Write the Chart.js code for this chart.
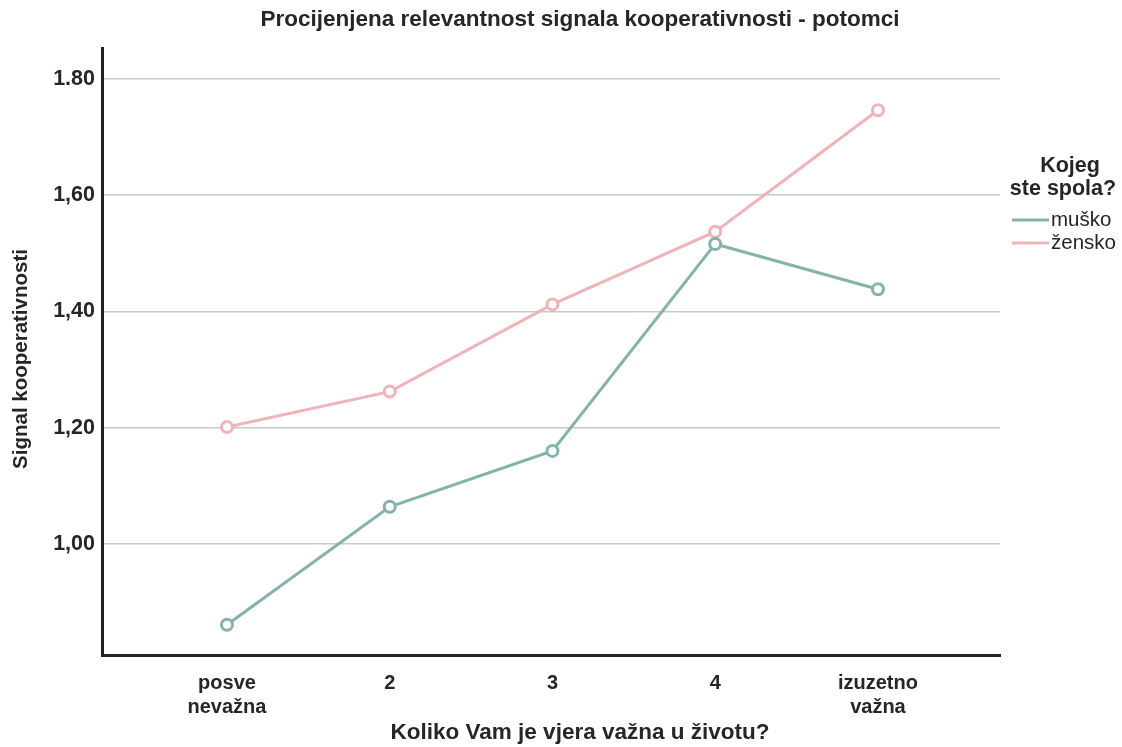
<!DOCTYPE html>
<html>
<head>
<meta charset="utf-8">
<script src="https://cdn.jsdelivr.net/npm/chart.js@4.4.0/dist/chart.umd.min.js"></script>
<style>
  html, body { margin: 0; padding: 0; background: #fff; }
  #wrap { width: 1122px; height: 747px; position: relative; }
</style>
</head>
<body>
<div id="wrap"><canvas id="chart"></canvas></div>
<script>
const categories = [["posve", "nevažna"], "2", "3", "4", ["izuzetno", "važna"]];
const musko = [0.861, 1.064, 1.160, 1.516, 1.438];
const zensko = [1.201, 1.262, 1.412, 1.537, 1.746];
const yTicks = [1.0, 1.2, 1.4, 1.6, 1.8];
const seriesNames = ["muško", "žensko"];
const colors = ["#84b2ad", "#f2b3b8"];

const FONT = "'Liberation Sans', Arial, Helvetica, sans-serif";
const TEXT = "#262626";

const toPoints = (arr) => arr.map((v, i) => ({ x: i, y: v }));

const dataset = (label, values, color) => ({
    label: label,
    data: toPoints(values),
    borderColor: color,
    backgroundColor: "#ffffff",
    borderWidth: 3,
    pointRadius: 5.5,
    pointHoverRadius: 5.5,
    pointBorderWidth: 3,
    pointBackgroundColor: "#ffffff",
    pointBorderColor: color,
    tension: 0,
});

const textPlugin = {
    id: "texts",
    afterDraw(chart) {
        const ctx = chart.ctx;
        ctx.save();
        ctx.fillStyle = TEXT;
        ctx.textBaseline = "middle";

        // title
        ctx.font = "bold 22.5px " + FONT;
        ctx.textAlign = "center";
        ctx.fillText("Procijenjena relevantnost signala kooperativnosti - potomci", 580, 20);

        // x axis title
        ctx.fillText("Koliko Vam je vjera važna u životu?", 580, 733);

        // y axis title
        ctx.save();
        ctx.translate(21, 359);
        ctx.rotate(-Math.PI / 2);
        ctx.font = "bold 20.5px " + FONT;
        ctx.fillText("Signal kooperativnosti", 0, 0);
        ctx.restore();

        // legend
        ctx.font = "bold 21.5px " + FONT;
        ctx.fillText("Kojeg", 1070, 166);
        ctx.fillText("ste spola?", 1063, 189);
        ctx.textAlign = "left";
        ctx.font = "20.5px " + FONT;
        const rows = [220, 243];
        seriesNames.forEach((name, i) => {
            ctx.strokeStyle = colors[i];
            ctx.lineWidth = 3;
            ctx.beginPath();
            ctx.moveTo(1012, rows[i]);
            ctx.lineTo(1049, rows[i]);
            ctx.stroke();
            ctx.fillText(name, 1051, rows[i]);
        });
        ctx.restore();
    },
};

new Chart(document.getElementById("chart"), {
    type: "line",
    data: {
        datasets: [
            dataset(seriesNames[0], musko, colors[0]),
            dataset(seriesNames[1], zensko, colors[1]),
        ],
    },
    options: {
        responsive: true,
        maintainAspectRatio: false,
        animation: false,
        layout: { padding: { top: 48, right: 122, bottom: 0, left: 0 } },
        plugins: {
            legend: { display: false },
            title: { display: false },
            tooltip: { enabled: false },
        },
        scales: {
            x: {
                type: "linear",
                min: -0.768,
                max: 4.75,
                afterBuildTicks: (axis) => {
                    axis.ticks = categories.map((c, i) => ({ value: i }));
                },
                afterFit: (axis) => { axis.height = 92; },
                ticks: {
                    callback: (v) => categories[v],
                    color: TEXT,
                    font: { family: FONT, size: 20, weight: "bold", lineHeight: 1.2 },
                    padding: 16,
                    maxRotation: 0,
                    autoSkip: false,
                },
                grid: { display: false, drawTicks: false },
                border: { color: "#222222", width: 3 },
            },
            y: {
                min: 0.809,
                max: 1.853,
                afterBuildTicks: (axis) => {
                    axis.ticks = yTicks.map((v) => ({ value: v }));
                },
                afterFit: (axis) => { axis.width = 102; },
                ticks: {
                    callback: (v) => v === 1.8 ? "1.80" : v.toFixed(2).replace(".", ","),
                    color: TEXT,
                    font: { family: FONT, size: 21.5, weight: "bold" },
                    padding: 7,
                },
                grid: { color: "#c8c8c8", lineWidth: 1.5, drawTicks: false },
                border: { color: "#222222", width: 3 },
            },
        },
    },
    plugins: [textPlugin],
});
</script>
</body>
</html>
